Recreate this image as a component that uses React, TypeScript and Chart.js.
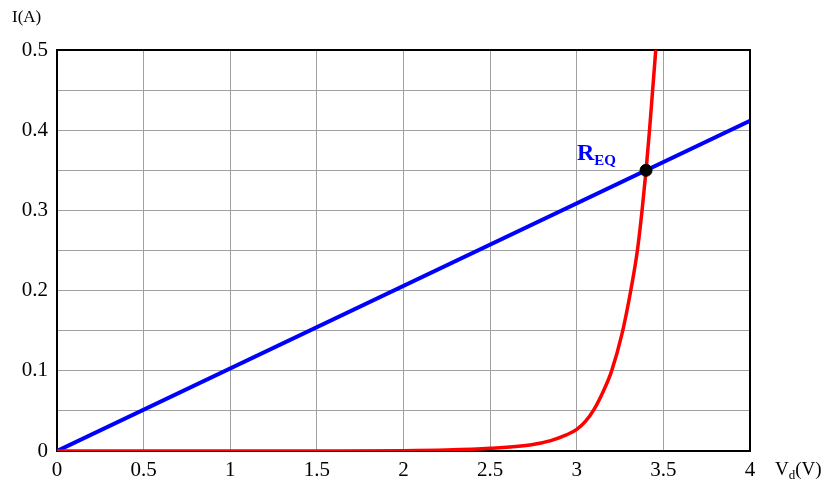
import React, { useEffect, useRef } from "react";
import { Chart, registerables } from "chart.js";

Chart.register(...registerables);

// Diode forward characteristic (red)
const diodeV = [0, 0.5, 1, 1.5, 2, 2.25, 2.5, 2.73, 2.85, 2.94, 3.0, 3.05, 3.1, 3.15, 3.2, 3.26, 3.31, 3.35, 3.377, 3.4, 3.42, 3.438, 3.456];
const diodeI = [0, 0, 0, 0.0001, 0.0004, 0.0012, 0.0033, 0.0075, 0.013, 0.02, 0.027, 0.037, 0.052, 0.073, 0.099, 0.145, 0.198, 0.25, 0.3, 0.35, 0.4, 0.45, 0.5];

// Equivalent resistance load line (blue)
const loadV = [0, 4];
const loadI = [0, 0.4118];

// Operating point
const opV = [3.4];
const opI = [0.35];

const xTicks = [0, 0.5, 1, 1.5, 2, 2.5, 3, 3.5, 4];
const yLabelled = [0, 0.1, 0.2, 0.3, 0.4, 0.5];

const SERIF = "'Liberation Serif', 'Times New Roman', serif";

const toPoints = (xs: number[], ys: number[]) => xs.map((x, i) => ({ x, y: ys[i] }));

const framePlugin = {
  id: "frame",
  beforeDatasetsDraw(chart: any) {
    const { ctx, chartArea: a } = chart;
    ctx.save();
    ctx.strokeStyle = "#000";
    ctx.lineWidth = 2;
    ctx.strokeRect(a.left, a.top, a.right - a.left, a.bottom - a.top);
    ctx.restore();
  },
  afterDraw(chart: any) {
    const { ctx } = chart;
    ctx.save();
    ctx.fillStyle = "#000";
    ctx.textBaseline = "alphabetic";
    ctx.textAlign = "left";
    // y-axis title
    ctx.font = `17px ${SERIF}`;
    ctx.fillText("I(A)", 12, 22);
    // x-axis title with subscript
    let x = 775;
    ctx.font = `19px ${SERIF}`;
    ctx.fillText("V", x, 475);
    x += ctx.measureText("V").width;
    ctx.font = `13px ${SERIF}`;
    ctx.fillText("d", x, 479);
    x += ctx.measureText("d").width;
    ctx.font = `19px ${SERIF}`;
    ctx.fillText("(V)", x, 475);
    // load line label
    ctx.fillStyle = "#0000ff";
    ctx.font = `bold 24px ${SERIF}`;
    let rx = 577;
    ctx.fillText("R", rx, 160);
    rx += ctx.measureText("R").width;
    ctx.font = `bold 15px ${SERIF}`;
    ctx.fillText("EQ", rx, 165);
    ctx.restore();
  },
};

export default function App() {
  const canvasRef = useRef<HTMLCanvasElement | null>(null);

  useEffect(() => {
    if (!canvasRef.current) return;
    const chart = new Chart(canvasRef.current, {
      type: "scatter",
      data: {
        datasets: [
          {
            label: "Q",
            data: toPoints(opV, opI),
            pointRadius: 6,
            pointBackgroundColor: "#000",
            pointBorderColor: "#000",
            showLine: false,
          },
          {
            label: "diode",
            data: toPoints(diodeV, diodeI),
            borderColor: "#ff0000",
            borderWidth: 3.5,
            pointRadius: 0,
            showLine: true,
            cubicInterpolationMode: "monotone",
          },
          {
            label: "REQ",
            data: toPoints(loadV, loadI),
            borderColor: "#0000ff",
            borderWidth: 4,
            pointRadius: 0,
            showLine: true,
          },
        ],
      },
      options: {
        animation: false,
        responsive: true,
        maintainAspectRatio: false,
        layout: { padding: { left: 0, top: 50, right: 77, bottom: 0 } },
        plugins: { legend: { display: false }, tooltip: { enabled: false } },
        scales: {
          x: {
            type: "linear",
            min: 0,
            max: 4,
            afterBuildTicks: (scale: any) => {
              scale.ticks = xTicks.map((v) => ({ value: v }));
            },
            afterFit: (scale: any) => {
              scale.height = 32;
            },
            border: { display: false },
            grid: { color: "#a0a0a0", lineWidth: 1, drawTicks: false },
            ticks: {
              padding: 7,
              color: "#000",
              font: { family: SERIF, size: 21 },
              maxRotation: 0,
              callback: (v: any) => String(v),
            },
          },
          y: {
            type: "linear",
            min: 0,
            max: 0.5,
            afterBuildTicks: (scale: any) => {
              const t = [];
              for (let i = 0; i <= 10; i++) t.push({ value: i * 0.05 });
              scale.ticks = t;
            },
            afterFit: (scale: any) => {
              scale.width = 57;
            },
            border: { display: false },
            grid: { color: "#a0a0a0", lineWidth: 1, drawTicks: false },
            ticks: {
              padding: 9,
              color: "#000",
              font: { family: SERIF, size: 21 },
              callback: (v: any) => {
                const r = Math.round(v * 100) / 100;
                return yLabelled.some((l) => Math.abs(l - r) < 1e-6) ? String(r) : "";
              },
            },
          },
        },
      },
      plugins: [framePlugin],
    } as any);
    return () => chart.destroy();
  }, []);

  return (
    <div style={{ position: "absolute", left: 0, top: 0, width: 827, height: 483, background: "#fff" }}>
      <canvas ref={canvasRef} />
    </div>
  );
}
